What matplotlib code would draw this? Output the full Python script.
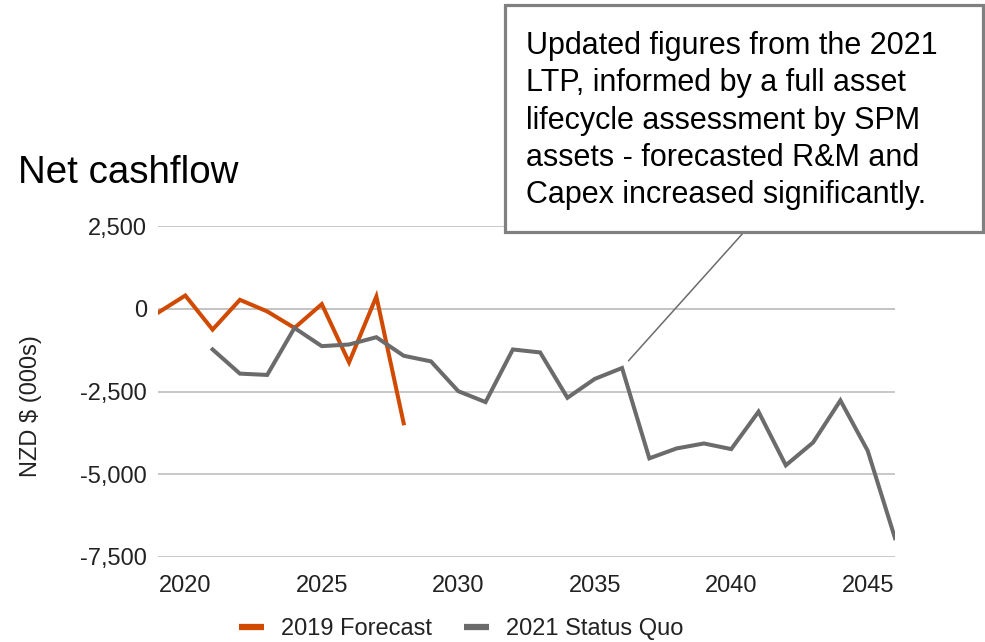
import matplotlib.pyplot as plt
from matplotlib.patches import Rectangle
from matplotlib.lines import Line2D
from matplotlib.ticker import FuncFormatter

plt.rcParams['font.family'] = ['Liberation Sans', 'DejaVu Sans']

# 数据 (NZD 000s)
years_2019 = [2019, 2020, 2021, 2022, 2023, 2024, 2025, 2026, 2027, 2028]
forecast_2019 = [-120, 400, -630, 270, -80, -580, 140, -1620, 370, -3460]

years_2021 = list(range(2021, 2047))
status_quo_2021 = [-1230, -1960, -2000, -580, -1130, -1080, -860, -1420, -1590, -2490,
                   -2820, -1230, -1320, -2690, -2120, -1790, -4520, -4220, -4070, -4240,
                   -3110, -4730, -4040, -2770, -4290, -6930]

x_ticks = [2020, 2025, 2030, 2035, 2040, 2045]
y_ticks = [2500, 0, -2500, -5000, -7500]

orange = '#D04A02'
grey = '#6B6B6B'

fig = plt.figure(figsize=(9.85, 6.42), dpi=100)
ax = fig.add_axes([158 / 985, 1 - 557 / 642, (895 - 158) / 985, (557 - 226) / 642])

ax.plot(years_2019, forecast_2019, color=orange, lw=2.9, solid_joinstyle='miter', zorder=3)
ax.plot(years_2021, status_quo_2021, color=grey, lw=2.9, solid_joinstyle='miter', zorder=3)

ax.set_xlim(2019, 2046)
ax.set_ylim(-7500, 2500)
ax.set_xticks(x_ticks)
ax.set_yticks(y_ticks)
ax.yaxis.set_major_formatter(FuncFormatter(lambda v, p: f'{int(v):,}'))
ax.tick_params(axis='both', length=0, labelsize=17, labelcolor='#222222')
ax.tick_params(axis='y', pad=8)
ax.tick_params(axis='x', pad=13)
for s in ax.spines.values():
    s.set_visible(False)
ax.grid(axis='y', color='#c8c8c8', lw=1.4, zorder=0)
ax.axhline(0, color='#333333', lw=1.2, zorder=1)

# 标题和轴标签
fig.text(18 / 985, 1 - 183 / 642, 'Net cashflow', fontsize=27.7, va='baseline', ha='left')
fig.text(31 / 985, 1 - 406 / 642, 'NZD $ (000s)', fontsize=17, rotation=90,
         ha='center', va='center', color='#222222')

# 注释框
box_l, box_r, box_t, box_b = 505, 983, 5, 232
fig.patches.append(Rectangle((box_l / 985, 1 - box_b / 642), (box_r - box_l) / 985,
                             (box_b - box_t) / 642, transform=fig.transFigure,
                             facecolor='white', edgecolor='#808080', lw=2.3, zorder=5))
fig.text(526 / 985, 1 - 31 / 642,
         'Updated figures from the 2021\nLTP, informed by a full asset\n'
         'lifecycle assessment by SPM\nassets - forecasted R&M and\n'
         'Capex increased significantly.',
         fontsize=22, ha='left', va='top', linespacing=1.32, zorder=6)
ax.annotate('', xy=(2036, status_quo_2021[years_2021.index(2036)]),
            xytext=((box_l + box_r) / 2 / 985, 1 - box_b / 642), textcoords='figure fraction',
            arrowprops=dict(arrowstyle='-', color='#6b6b6b', lw=1.1, shrinkA=0, shrinkB=7))

# 图例
handles = [Line2D([], [], color=orange, lw=4.5, solid_capstyle='butt'),
           Line2D([], [], color=grey, lw=4.5, solid_capstyle='butt')]
fig.legend(handles, ['2019 Forecast', '2021 Status Quo'], loc='center',
           bbox_to_anchor=(461 / 985, 1 - 629 / 642), ncol=2, frameon=False,
           fontsize=17, handlelength=1.06, handletextpad=0.72, columnspacing=1.35,
           labelcolor='#222222')

fig.savefig('out.png', dpi=100)
